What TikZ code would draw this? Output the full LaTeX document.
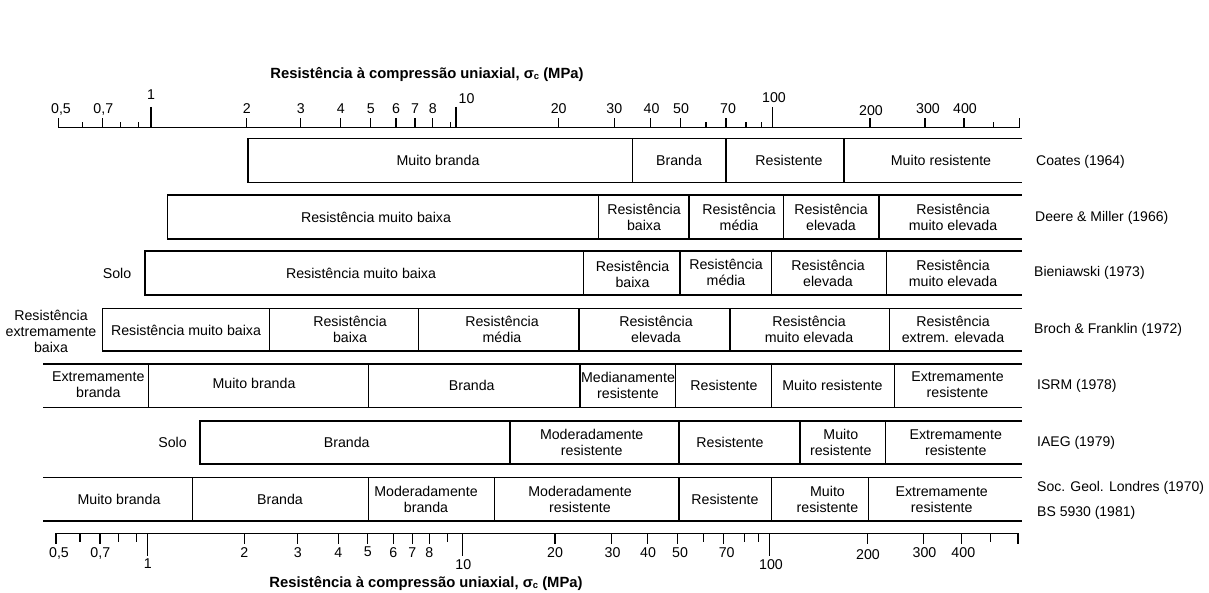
\documentclass[tikz,border=0pt]{standalone}
\usepackage{fontspec}
\setmainfont{Liberation Sans}
\begin{document}
\begin{tikzpicture}[x=1pt,y=-1pt,
  lbl/.style={font=\fontsize{14.2}{16}\selectfont, align=center, inner sep=0pt},
  ttl/.style={font=\bfseries\fontsize{14.8}{17}\selectfont, inner sep=0pt},
  src/.style={font=\fontsize{14}{16}\selectfont, anchor=west, inner sep=0pt},
  rowline/.style={line width=1.3pt, line cap=rect},
  axisline/.style={line width=1.3pt},
  tickline/.style={line width=1.1pt}]
\useasboundingbox (0,0) rectangle (1209,593);

% ---------- top scale ----------
\node[ttl] (toptitle) at (427,75) {Resistência à compressão uniaxial, σ\raisebox{-0.5pt}{\fontsize{9.5}{10}\selectfont c} (MPa)};
\draw[axisline] (58.5,127.7) -- (1019.3,127.7);
\foreach \x in {151,456,772.7} \draw[tickline] (\x,107) -- (\x,127.7);
\foreach \x in {58.5,102.7,246.7,300.7,340.7,370.7,396,415,432.7,558.7,614.3,650.7,680.7,726,870,925,964,1019.3}
  \draw[tickline] (\x,118.5) -- (\x,127.7);
\foreach \x in {82.7,120.7,138.7,450.7,706,746,761.7,993.3}
  \draw[tickline] (\x,122.5) -- (\x,127.7);
\foreach \x/\y/\t [count=\i] in {61/109/{0,5},103.3/109/{0,7},151/95/1,246.7/109/2,300.7/109/3,340.7/109/4,370.7/108.3/5,396/109/6,415/109/7,432.7/109/8,466.5/98.3/10,558.7/109/20,614.3/109/30,651.5/109/40,681/109/50,728/109/70,774/98/100,871/111/200,928/109/300,965/109/400}
  \node[lbl] (tn\i) at (\x,\y) {\t};

% ---------- Coates (1964) ----------
\draw[rowline] (1021,138.3) -- (248,138.3) -- (248,182.3) -- (1021,182.3);
\foreach \x in {632.7,726,844} \draw[rowline] (\x,138.3) -- (\x,182.3);
\node[lbl] (a1) at (438,160.3) {Muito branda};
\node[lbl] (a2) at (679,160.3) {Branda};
\node[lbl] (a3) at (789,160.3) {Resistente};
\node[lbl] (a4) at (941,160.3) {Muito resistente};
\node[src] (sa) at (1036,161.5) {Coates (1964)};

% ---------- Deere & Miller (1966) ----------
\draw[rowline] (1021,195) -- (167.3,195) -- (167.3,239) -- (1021,239);
\foreach \x in {598.3,689,783.3,879} \draw[rowline] (\x,195) -- (\x,239);
\node[lbl] (b1) at (376,217) {Resistência muito baixa};
\node[lbl] (b2) at (644,217) {Resistência\\baixa};
\node[lbl] (b3) at (739,217) {Resistência\\média};
\node[lbl] (b4) at (831,217) {Resistência\\elevada};
\node[lbl] (b5) at (953,217) {Resistência\\muito elevada};
\node[src] (sb) at (1035,218) {Deere \& Miller (1966)};

% ---------- Bieniawski (1973) ----------
\draw[rowline] (1021,251) -- (145,251) -- (145,295) -- (1021,295);
\foreach \x in {583.3,680,771.7,886.7} \draw[rowline] (\x,251) -- (\x,295);
\node[lbl] (c0) at (117,273) {Solo};
\node[lbl] (c1) at (361,273) {Resistência muito baixa};
\node[lbl] (c2) at (632.5,274) {Resistência\\baixa};
\node[lbl] (c3) at (726,272) {Resistência\\média};
\node[lbl] (c4) at (828,273) {Resistência\\elevada};
\node[lbl] (c5) at (953,273) {Resistência\\muito elevada};
\node[src] (sc) at (1034,273) {Bieniawski (1973)};

% ---------- Broch & Franklin (1972) ----------
\draw[rowline] (1021,308.3) -- (102.7,308.3) -- (102.7,351) -- (1021,351);
\foreach \x in {269.3,418.3,579,730,889.3} \draw[rowline] (\x,308.3) -- (\x,351);
\node[lbl] (d0) at (51,331) {Resistência\\extremamente\\baixa};
\node[lbl] (d1) at (186,330) {Resistência muito baixa};
\node[lbl] (d2) at (350,329.5) {Resistência\\baixa};
\node[lbl] (d3) at (502,329.5) {Resistência\\média};
\node[lbl] (d4) at (656,329.5) {Resistência\\elevada};
\node[lbl] (d5) at (809,329.5) {Resistência\\muito elevada};
\node[lbl] (d6) at (953,329.5) {Resistência\\extrem. elevada};
\node[src] (sd) at (1034,330) {Broch \& Franklin (1972)};

% ---------- ISRM (1978) ----------
\draw[rowline] (1021,364) -- (43.3,364);
\draw[rowline] (1021,407.3) -- (43.3,407.3);
\foreach \x in {148.3,368.3,580,675.7,771.7,894.3} \draw[rowline] (\x,364) -- (\x,407.3);
\node[lbl] (e1) at (98.3,385) {Extremamente\\branda};
\node[lbl] (e2) at (254,383) {Muito branda};
\node[lbl] (e3) at (471.7,385) {Branda};
\node[lbl] (e4) at (628,385) {Medianamente\\resistente};
\node[lbl] (e5) at (724,385) {Resistente};
\node[lbl] (e6) at (832.5,385) {Muito resistente};
\node[lbl] (e7) at (957.5,385) {Extremamente\\resistente};
\node[src] (se) at (1037,385.7) {ISRM (1978)};

% ---------- IAEG (1979) ----------
\draw[rowline] (1021,421) -- (200,421) -- (200,464) -- (1021,464);
\foreach \x in {510,679,800,885.7} \draw[rowline] (\x,421) -- (\x,464);
\node[lbl] (f0) at (172.5,442.5) {Solo};
\node[lbl] (f1) at (346.7,442.5) {Branda};
\node[lbl] (f2) at (591.7,442.5) {Moderadamente\\resistente};
\node[lbl] (f3) at (730,442.5) {Resistente};
\node[lbl] (f4) at (840.8,442.5) {Muito\\resistente};
\node[lbl] (f5) at (955.8,442.5) {Extremamente\\resistente};
\node[src] (sf) at (1037,443) {IAEG (1979)};

% ---------- Soc. Geol. Londres (1970) / BS 5930 (1981) ----------
\draw[rowline] (1021,477.7) -- (43.3,477.7);
\draw[rowline] (1021,521) -- (43.3,521);
\foreach \x in {192.3,368.3,494.3,679,771.7,868.3} \draw[rowline] (\x,477.7) -- (\x,521);
\node[lbl] (g1) at (119,499.5) {Muito branda};
\node[lbl] (g2) at (280,499.5) {Branda};
\node[lbl] (g3) at (426,499.3) {Moderadamente\\branda};
\node[lbl] (g4) at (580,499.3) {Moderadamente\\resistente};
\node[lbl] (g5) at (725,499.5) {Resistente};
\node[lbl] (g6) at (827.5,499.3) {Muito\\resistente};
\node[lbl] (g7) at (941.7,499.3) {Extremamente\\resistente};
\node[src] (sg) at (1037,488.3) {Soc. Geol. Londres (1970)};
\node[src] (sh) at (1037,512.7) {BS 5930 (1981)};

% ---------- bottom scale ----------
\draw[axisline] (56,533.3) -- (1018,533.3);
\foreach \x in {147.7,462.3,769.3} \draw[tickline] (\x,533.3) -- (\x,556);
\foreach \x in {56,100,244.3,297.7,338.3,367.7,393.3,412.3,429.3,555,611.7,647.7,677.7,723.3,867.7,923.3,961.7,1018}
  \draw[tickline] (\x,533.3) -- (\x,544);
\foreach \x in {80,118.3,136.7,447.7,703.3,744.3,758.3,990.7}
  \draw[tickline] (\x,533.3) -- (\x,541.5);
\foreach \x/\y/\t [count=\i] in {59/553/{0,5},100.3/553/{0,7},147.7/563.5/1,244.3/553/2,297.7/553/3,338.3/553/4,367.7/552/5,393.3/553/6,412.3/553/7,429.3/553/8,463.3/565/10,555/553/20,612.5/553/30,648/553/40,680/553/50,726.7/553/70,771/565/100,868/555/200,924.5/553/300,963.3/553/400}
  \node[lbl] (bn\i) at (\x,\y) {\t};
\node[ttl] (bottomtitle) at (426,584) {Resistência à compressão uniaxial, σ\raisebox{-0.5pt}{\fontsize{9.5}{10}\selectfont c} (MPa)};
\end{tikzpicture}
\end{document}
